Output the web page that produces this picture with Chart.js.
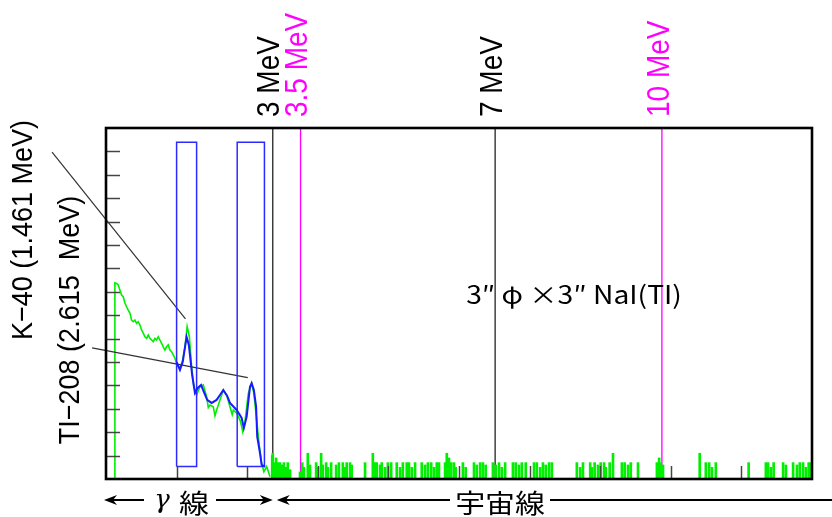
<!DOCTYPE html>
<html>
<head>
<meta charset="utf-8">
<script src="https://cdn.jsdelivr.net/npm/chart.js@4.4.0/dist/chart.umd.min.js"></script>
<style>
	html, body { margin: 0; padding: 0; background: #fff; }
</style>
</head>
<body>
<canvas id="myChart" width="832" height="517"></canvas>
<script>
"use strict";

// gamma-ray spectrum (energy in MeV, counts in axis units)
const greenE = [0.16, 0.16, 0.19, 0.22, 0.25, 0.28, 0.31, 0.34, 0.37, 0.40, 0.43, 0.46, 0.49, 0.52, 0.55, 0.58, 0.61, 0.64, 0.67, 0.70, 0.73, 0.76, 0.79, 0.82, 0.85, 0.88, 0.91, 0.94, 0.97, 1.00, 1.03, 1.06, 1.09, 1.12, 1.15, 1.18, 1.21, 1.24, 1.28, 1.33, 1.38, 1.42, 1.46, 1.50, 1.54, 1.58, 1.63, 1.69, 1.75, 1.81, 1.84, 1.87, 1.93, 1.96, 1.99, 2.05, 2.11, 2.17, 2.23, 2.27, 2.29, 2.35, 2.41, 2.44, 2.46, 2.50, 2.56, 2.62, 2.66, 2.71, 2.76, 2.80, 2.84, 2.89, 2.95];
const greenV = [0, 8.38, 8.36, 8.29, 8.08, 7.86, 7.79, 7.52, 7.36, 7.22, 7.09, 6.79, 6.72, 6.79, 6.65, 6.72, 6.58, 6.37, 6.23, 6.08, 6.01, 6.15, 6.01, 5.94, 5.87, 6.01, 5.94, 6.08, 5.94, 5.80, 5.65, 5.51, 5.65, 5.73, 5.51, 5.44, 5.30, 5.16, 4.87, 4.73, 5.09, 5.65, 6.51, 6.08, 4.80, 3.94, 3.59, 3.94, 4.02, 3.52, 3.05, 3.16, 3.09, 2.70, 2.95, 3.38, 3.80, 3.59, 3.09, 2.75, 2.95, 2.81, 2.52, 2.25, 2.02, 2.45, 3.66, 4.09, 3.66, 2.52, 1.38, 0.67, 0.31, 0.53, 0.10];

// smoothed spectrum
const blueE = [1.27, 1.33, 1.38, 1.45, 1.49, 1.55, 1.60, 1.65, 1.71, 1.76, 1.82, 1.90, 1.99, 2.05, 2.11, 2.18, 2.23, 2.35, 2.44, 2.48, 2.53, 2.59, 2.62, 2.66, 2.70, 2.72, 2.77, 2.80, 2.86];
const blueV = [5.0, 4.66, 5.0, 6.07, 5.73, 4.44, 3.68, 3.89, 4.02, 3.72, 3.38, 3.25, 3.38, 3.59, 3.80, 3.55, 3.25, 2.95, 2.61, 2.18, 2.66, 3.94, 4.09, 3.80, 3.09, 1.81, 1.11, 0.60, 0.53];

// cosmic-ray counts above 3 MeV
const noiseE = [2.99, 3.00, 3.04, 3.06, 3.09, 3.13, 3.17, 3.20, 3.24, 3.27, 3.31, 3.49, 3.53, 3.56, 3.63, 3.67, 3.78, 3.81, 3.87, 3.90, 3.96, 3.99, 4.05, 4.14, 4.19, 4.26, 4.30, 4.33, 4.39, 4.42, 4.66, 4.80, 4.84, 4.87, 4.93, 4.96, 5.02, 5.07, 5.13, 5.23, 5.29, 5.34, 5.41, 5.45, 5.50, 5.56, 5.68, 5.74, 5.79, 5.85, 5.90, 5.95, 5.99, 6.10, 6.13, 6.17, 6.21, 6.26, 6.29, 6.42, 6.47, 6.62, 6.67, 6.73, 6.78, 6.83, 6.96, 7.01, 7.07, 7.12, 7.18, 7.32, 7.37, 7.43, 7.48, 7.55, 7.70, 7.75, 7.81, 7.86, 7.91, 7.97, 8.02, 8.47, 8.53, 8.58, 8.71, 8.74, 8.79, 8.85, 8.90, 8.96, 8.99, 9.06, 9.12, 9.28, 9.33, 9.39, 9.44, 9.57, 9.91, 9.95, 9.98, 10.02, 10.68, 10.79, 10.85, 10.90, 10.97, 11.56, 11.87, 11.91, 11.96, 12.01, 12.18, 12.23, 12.36, 12.43, 12.48, 12.54, 12.59, 12.64, 12.68];
const noiseV = [1.0, 1.1, 0.7, 0.9, 0.7, 0.7, 0.6, 0.7, 0.5, 0.7, 0.4, 0.3, 0.7, 0.5, 1.1, 0.6, 0.7, 0.5, 1.1, 0.6, 0.7, 0.5, 0.7, 0.6, 0.7, 0.7, 0.5, 0.7, 0.7, 0.6, 0.7, 1.1, 0.7, 0.7, 0.6, 0.7, 0.5, 0.7, 0.7, 0.7, 0.5, 0.7, 0.7, 0.7, 0.5, 0.7, 0.7, 0.6, 0.7, 0.7, 0.5, 0.7, 0.7, 0.7, 1.1, 0.9, 0.7, 0.7, 0.5, 0.7, 0.5, 0.7, 0.6, 0.7, 0.7, 0.6, 0.7, 0.6, 0.7, 0.5, 0.7, 0.7, 0.7, 0.6, 0.7, 0.7, 0.7, 0.7, 0.5, 0.7, 0.6, 0.7, 0.7, 0.7, 0.5, 0.7, 0.7, 0.5, 0.7, 0.6, 0.7, 0.7, 0.5, 0.7, 1.1, 0.7, 0.7, 0.6, 0.7, 0.7, 0.7, 0.9, 0.7, 0.6, 1.1, 0.7, 0.7, 0.5, 0.7, 0.7, 0.7, 0.7, 0.5, 0.7, 0.7, 0.6, 0.7, 0.6, 0.7, 0.7, 0.5, 0.7, 0.7];

// peak windows [from, to] in MeV and their height range
const windowE = [[1.27, 1.63], [2.36, 2.85]];
const windowV = [0.53, 14.39];

// marker lines
const markerE = [3, 3.5, 7, 10];
const markerLabels = ["3 MeV", "3.5 MeV", "7 MeV", "10 MeV"];
const markerColors = ["#222222", "#ff00ff", "#222222", "#ff00ff"];

// peak labels and where their pointer lines start / end
const peakLabels = ["K\u221240 (1.461 MeV)", "TI\u2212208 (2.615  MeV)"];
const pointerFrom = [[-0.97, 13.97], [-0.25, 5.6]];
const pointerTo = [[1.43, 6.84], [2.55, 4.33]];

const xTicks = [1.27, 2.54, 3.81, 5.08, 6.35, 7.62, 8.89, 10.16, 11.43];
const yTicks = [1, 2, 3, 4, 5, 6, 7, 8, 9, 10, 11, 12, 13, 14];

const LATIN = "'Liberation Sans', Arial, sans-serif";
const CJK = "'Noto Sans CJK JP', sans-serif";

function toPoints(xs, ys) {
	return xs.map(function (x, i) {
		return { x: x, y: ys[i] };
	});
}

const datasets = [];

datasets.push({
	type: "line",
	data: toPoints(blueE, blueV),
	borderColor: "#1a1aff",
	borderWidth: 2,
	pointRadius: 0,
	order: 0,
});

datasets.push({
	type: "line",
	data: toPoints(greenE, greenV),
	borderColor: "#00ee00",
	borderWidth: 1.6,
	pointRadius: 0,
	order: 2,
});

datasets.push({
	type: "bar",
	data: toPoints(noiseE, noiseV),
	backgroundColor: "#00ee00",
	barThickness: 2,
	order: 3,
});

windowE.forEach(function (w) {
	datasets.push({
		type: "line",
		data: [
			{ x: w[0], y: windowV[0] },
			{ x: w[0], y: windowV[1] },
			{ x: w[1], y: windowV[1] },
			{ x: w[1], y: windowV[0] },
			{ x: w[0], y: windowV[0] },
		],
		borderColor: "#2b2bff",
		borderWidth: 1.5,
		pointRadius: 0,
		order: 1,
	});
});

markerE.forEach(function (e, i) {
	datasets.push({
		type: "line",
		data: [{ x: e, y: 0 }, { x: e, y: 15 }],
		borderColor: markerColors[i],
		borderWidth: 1.3,
		pointRadius: 0,
		order: 4,
	});
});

pointerFrom.forEach(function (p, i) {
	datasets.push({
		type: "line",
		data: [{ x: p[0], y: p[1] }, { x: pointerTo[i][0], y: pointerTo[i][1] }],
		borderColor: "#333333",
		borderWidth: 1.2,
		pointRadius: 0,
		clip: false,
		order: 1,
	});
});

function stretchText(ctx, text, x, y, angle, sx, align) {
	ctx.save();
	ctx.translate(x, y);
	ctx.scale(sx, 1);
	ctx.rotate(angle);
	ctx.textAlign = align;
	ctx.textBaseline = "middle";
	ctx.fillText(text, 0, 0);
	ctx.restore();
}

function arrowHead(ctx, tipX, y, dir) {
	ctx.beginPath();
	ctx.moveTo(tipX, y);
	ctx.lineTo(tipX + dir * 13, y - 5);
	ctx.lineTo(tipX + dir * 9, y);
	ctx.lineTo(tipX + dir * 13, y + 5);
	ctx.closePath();
	ctx.fill();
}

const decorations = {
	id: "decorations",
	afterDatasetsDraw(chart) {
		const ctx = chart.ctx;
		const a = chart.chartArea;
		const xs = chart.scales.x;
		const ys = chart.scales.y;
		ctx.save();

		// inward ticks
		ctx.strokeStyle = "#444";
		ctx.lineWidth = 1.5;
		yTicks.forEach(function (v) {
			const py = Math.round(ys.getPixelForValue(v)) + 0.5;
			ctx.beginPath();
			ctx.moveTo(a.left, py);
			ctx.lineTo(a.left + 14, py);
			ctx.stroke();
		});
		xTicks.forEach(function (v) {
			const px = Math.round(xs.getPixelForValue(v)) + 0.5;
			ctx.beginPath();
			ctx.moveTo(px, a.bottom);
			ctx.lineTo(px, a.bottom - 13);
			ctx.stroke();
		});

		// frame
		ctx.strokeStyle = "#000";
		ctx.lineWidth = 2.6;
		ctx.strokeRect(a.left, a.top, a.right - a.left, a.bottom - a.top);

		// marker labels
		ctx.font = "28px " + LATIN;
		markerE.forEach(function (e, i) {
			ctx.fillStyle = markerColors[i] === "#222222" ? "#000" : markerColors[i];
			stretchText(ctx, markerLabels[i], xs.getPixelForValue(e) - 2, a.top - 11, -Math.PI / 2, 1.12, "left");
		});

		// peak labels
		ctx.fillStyle = "#000";
		ctx.font = "27px " + LATIN;
		stretchText(ctx, peakLabels[0], 24, 230, -Math.PI / 2, 1.12, "center");
		stretchText(ctx, peakLabels[1], 71, 320, -Math.PI / 2, 1.12, "center");

		// detector
		ctx.font = "25px " + CJK;
		stretchText(ctx, "3\u2033 \u03c6 \u00d73\u2033 NaI(TI)", 574, 294, 0, 1.13, "center");

		// energy ranges under the axis
		const y = 500;
		const left = xs.getPixelForValue(0) - 2;
		const mid = xs.getPixelForValue(3);
		ctx.strokeStyle = "#000";
		ctx.lineWidth = 2;
		ctx.beginPath();
		ctx.moveTo(left + 8, y);
		ctx.lineTo(left + 40, y);
		ctx.moveTo(left + 112, y);
		ctx.lineTo(mid - 8, y);
		ctx.moveTo(mid + 12, y);
		ctx.lineTo(450, y);
		ctx.moveTo(550, y);
		ctx.lineTo(chart.width, y);
		ctx.stroke();
		arrowHead(ctx, left, y, 1);
		arrowHead(ctx, mid, y, -1);
		arrowHead(ctx, mid + 4, y, 1);

		ctx.font = "26px " + CJK;
		stretchText(ctx, "\u7dda", left + 90, y + 3, 0, 1.15, "center");
		ctx.font = "italic 26px 'DejaVu Serif', serif";
		stretchText(ctx, "\u03b3", left + 58, y + 1, 0, 1.0, "center");
		ctx.font = "26px " + CJK;
		stretchText(ctx, "\u5b87\u5b99\u7dda", 500, y + 3, 0, 1.15, "center");

		ctx.restore();
	},
};

function drawSpectrum() {
	const ctx = document.getElementById("myChart");

	new Chart(ctx, {
		type: "line",
		data: { datasets: datasets },
		options: {
			responsive: false,
			animation: false,
			layout: { padding: { left: 106, right: 20, top: 128, bottom: 38 } },
			plugins: { legend: { display: false }, tooltip: { enabled: false } },
			scales: {
				x: { type: "linear", min: 0, max: 12.7, display: false, offset: false },
				y: { type: "linear", min: 0, max: 15, display: false },
			},
		},
		plugins: [decorations],
	});
}

drawSpectrum();
</script>
</body>
</html>
